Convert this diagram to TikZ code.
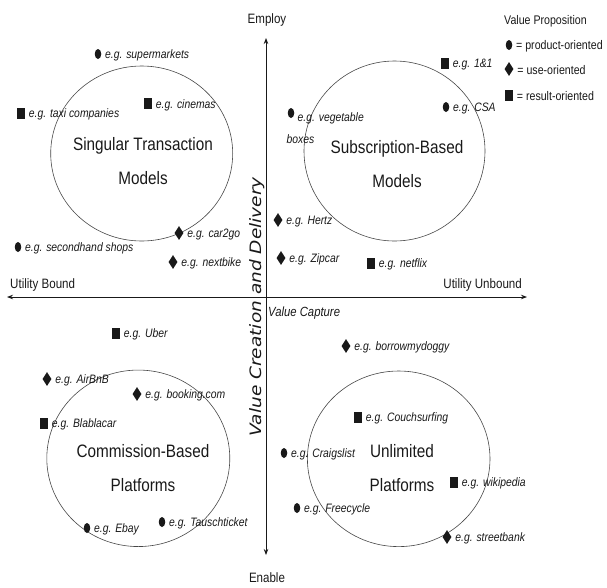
\documentclass[tikz,border=0pt]{standalone}
\usepackage{fontspec}
\newfontfamily\narrowsans[FakeStretch=0.85]{Liberation Sans}
\newfontfamily\widesans[FakeStretch=1.18]{DejaVu Sans}
\usetikzlibrary{shapes.geometric, arrows.meta, positioning}
\definecolor{ink}{RGB}{25,25,25}

\begin{document}
\begin{tikzpicture}[
        x=1pt, y=-1pt,
        node distance=2.5pt,
        dotmark/.style={ellipse, fill=ink, inner sep=0pt, minimum width=6.5pt, minimum height=10pt},
        gemmark/.style={diamond, fill=ink, inner sep=0pt, minimum width=9pt, minimum height=14pt},
        sqmark/.style={rectangle, fill=ink, inner sep=0pt, minimum width=8pt, minimum height=11pt},
        example/.style={text=ink, inner sep=1pt, yshift=-1.5pt, font=\narrowsans\itshape\fontsize{12.2}{14}\selectfont},
        zone/.style={ellipse, draw=black!72, line width=0.6pt, inner sep=0pt},
        title/.style={text=ink, align=center, font=\narrowsans\fontsize{18}{33.5}\selectfont},
        pole/.style={text=ink, inner sep=1pt, font=\narrowsans\fontsize{13.6}{16}\selectfont},
        key/.style={text=ink, inner sep=1pt, font=\narrowsans\fontsize{12.5}{15}\selectfont},
        axis/.style={{Stealth[length=6pt, width=4.5pt]}-{Stealth[length=6pt, width=4.5pt]}, line width=0.8pt, draw=ink}
    ]
    \useasboundingbox (0,0) rectangle (607,587);

    % Axes
    \coordinate (ax-n) at (266,38);
    \coordinate (ax-s) at (266,555);
    \coordinate (ax-w) at (7,297);
    \coordinate (ax-e) at (527,297);
    \draw [axis] (ax-s) -- (ax-n);
    \draw [axis] (ax-w) -- (ax-e);

    \node (employ) [pole] at (267,20) {Employ};
    \node (enable) [pole] at (267,578) {Enable};
    \node (bound) [pole, anchor=west] at (9,285) {Utility Bound};
    \node (unbound) [pole, anchor=east] at (523,285) {Utility Unbound};
    \node (capture) [pole, anchor=west, font=\narrowsans\itshape\fontsize{13.3}{16}\selectfont] at (267,313) {Value Capture};
    \node (creation) [text=ink, rotate=90, font=\widesans\itshape\fontsize{15.7}{18}\selectfont] at (257,307) {Value Creation and Delivery};

    % Legend
    \node (legend) [key, anchor=west] at (503,21) {Value Proposition};
    \node (l-prod) [dotmark] at (509,45) {};
    \node (l-use) [gemmark] at (509,69) {};
    \node (l-res) [sqmark] at (509,95) {};
    \node [key, right=of l-prod, yshift=-1pt] {= product-oriented};
    \node [key, right=of l-use, yshift=-1pt] {= use-oriented};
    \node [key, right=of l-res, yshift=-1pt] {= result-oriented};

    % Ellipses
    \node (singular) [zone, minimum width=182pt, minimum height=175pt] at (141.7,153.5) {};
    \node (subscription) [zone, minimum width=181pt, minimum height=180pt] at (394.5,151) {};
    \node (commission) [zone, minimum width=183pt, minimum height=176.5pt] at (138.3,458.3) {};
    \node (unlimited) [zone, minimum width=182.6pt, minimum height=175.6pt] at (398.7,458.8) {};

    \node (singular-t) [title] at (143,161) {Singular Transaction\\Models};
    \node (subscription-t) [title] at (397,164) {Subscription-Based\\Models};
    \node (commission-t) [title] at (143,468) {Commission-Based\\Platforms};
    \node (unlimited-t) [title] at (402,468) {Unlimited\\Platforms};

    % Singular transaction models
    \node (m-super) [dotmark] at (98,54) {};
    \node (super) [example, right=of m-super] {e.g. supermarkets};
    \node (m-taxi) [sqmark] at (21,113) {};
    \node (taxi) [example, right=of m-taxi] {e.g. taxi companies};
    \node (m-cinema) [sqmark] at (148,103.5) {};
    \node (cinema) [example, right=of m-cinema] {e.g. cinemas};
    \node (m-car2go) [gemmark] at (179,233) {};
    \node (car2go) [example, right=of m-car2go] {e.g. car2go};
    \node (m-second) [dotmark] at (18,247) {};
    \node (second) [example, right=of m-second] {e.g. secondhand shops};
    \node (m-nextbike) [gemmark] at (173,262) {};
    \node (nextbike) [example, right=of m-nextbike] {e.g. nextbike};

    % Subscription-based models
    \node (m-oneone) [sqmark] at (445,63) {};
    \node (oneone) [example, right=of m-oneone] {e.g. 1\&1};
    \node (m-csa) [dotmark] at (446,107) {};
    \node (csa) [example, right=of m-csa] {e.g. CSA};
    \node (m-veg) [dotmark] at (291,113) {};
    \node (veg) [example, align=left, anchor=north west, yshift=0pt, font=\narrowsans\itshape\fontsize{12.2}{22}\selectfont] at (285.5,109.5) {\hspace*{11pt}e.g. vegetable\\boxes};
    \node (m-hertz) [gemmark] at (278,220) {};
    \node (hertz) [example, right=of m-hertz] {e.g. Hertz};
    \node (m-zipcar) [gemmark] at (281,258) {};
    \node (zipcar) [example, right=of m-zipcar] {e.g. Zipcar};
    \node (m-netflix) [sqmark] at (371,263) {};
    \node (netflix) [example, right=of m-netflix] {e.g. netflix};

    % Commission-based platforms
    \node (m-uber) [sqmark] at (116,333) {};
    \node (uber) [example, right=of m-uber] {e.g. Uber};
    \node (m-airbnb) [gemmark] at (47,379) {};
    \node (airbnb) [example, right=of m-airbnb] {e.g. AirBnB};
    \node (m-booking) [gemmark] at (137,394) {};
    \node (booking) [example, right=of m-booking] {e.g. booking.com};
    \node (m-blabla) [sqmark] at (44,423) {};
    \node (blabla) [example, right=of m-blabla] {e.g. Blablacar};
    \node (m-ebay) [dotmark] at (87,528) {};
    \node (ebay) [example, right=of m-ebay] {e.g. Ebay};
    \node (m-tausch) [dotmark] at (162,522) {};
    \node (tausch) [example, right=of m-tausch] {e.g. Tauschticket};

    % Unlimited platforms
    \node (m-doggy) [gemmark] at (346,346) {};
    \node (doggy) [example, right=of m-doggy] {e.g. borrowmydoggy};
    \node (m-couch) [sqmark] at (358,417) {};
    \node (couch) [example, right=of m-couch] {e.g. Couchsurfing};
    \node (m-craigs) [dotmark] at (284,453) {};
    \node (craigs) [example, right=of m-craigs] {e.g. Craigslist};
    \node (m-freecycle) [dotmark] at (297,508) {};
    \node (freecycle) [example, right=of m-freecycle] {e.g. Freecycle};
    \node (m-wiki) [sqmark] at (454,482) {};
    \node (wiki) [example, right=of m-wiki] {e.g. wikipedia};
    \node (m-street) [gemmark] at (447,537) {};
    \node (street) [example, right=of m-street] {e.g. streetbank};

\end{tikzpicture}
\end{document}
